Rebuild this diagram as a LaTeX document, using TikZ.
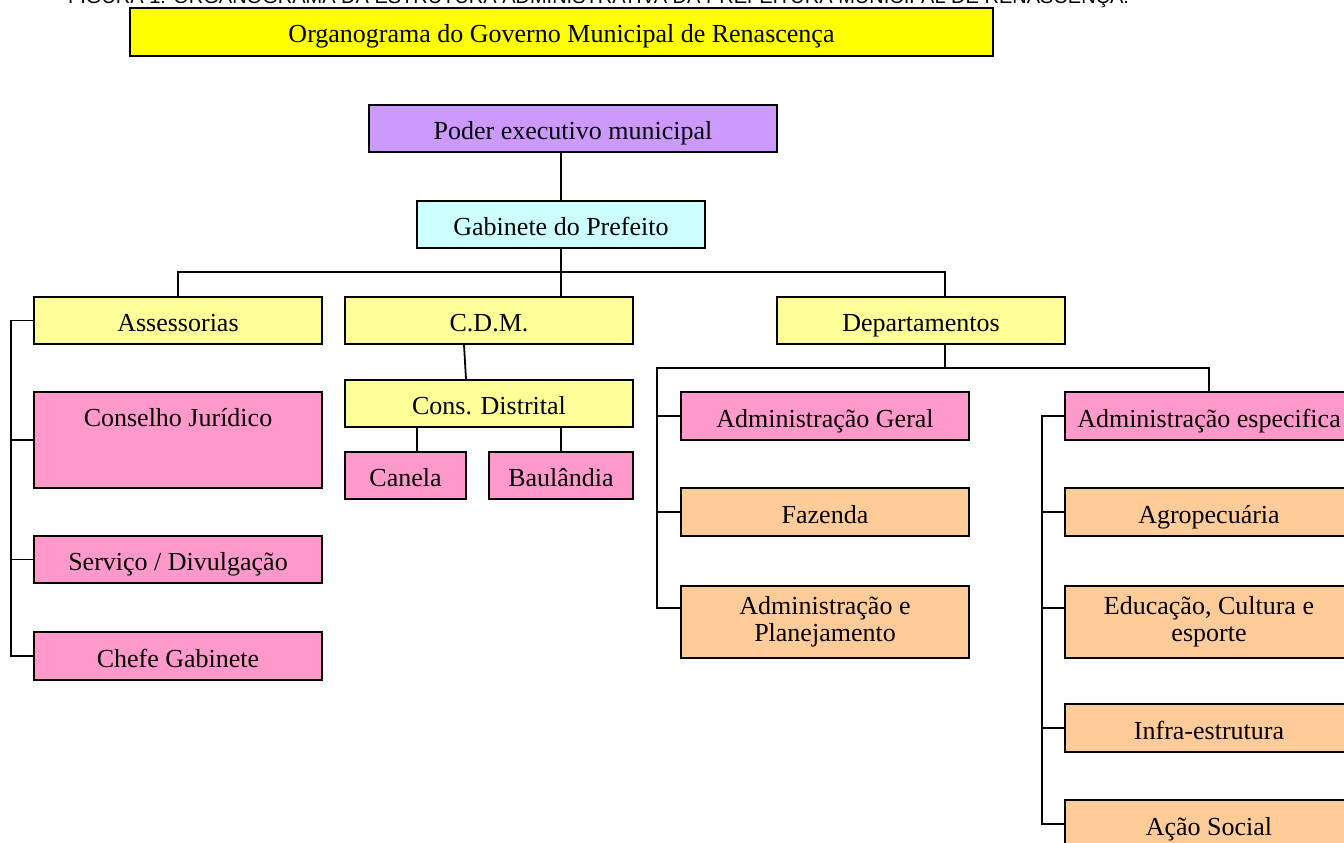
\documentclass[tikz,border=0pt]{standalone}
\usepackage{fontspec}
\setmainfont{Liberation Serif}
\newfontfamily\capfont{Liberation Sans}
\definecolor{titleyellow}{HTML}{FFFF00}
\definecolor{execpurple}{HTML}{CC99FF}
\definecolor{gabcyan}{HTML}{CCFFFF}
\definecolor{unityellow}{HTML}{FFFF99}
\definecolor{subpink}{HTML}{FF99CC}
\definecolor{deptorange}{HTML}{FFCC99}
\begin{document}
\begin{tikzpicture}[x=1pt,y=-1pt,
  orgframe/.style={draw=black, line width=1.8pt, rectangle, inner sep=0pt,
    minimum width=288pt, minimum height=47pt, align=center,
    font=\fontsize{26}{27}\selectfont},
  orgbox/.style={orgframe, text height=22pt, text depth=0pt},
  orgtwo/.style={orgframe, minimum height=72pt},
  link/.style={draw=black, line width=1.8pt}]
\useasboundingbox (0,0) rectangle (1344,843);
\clip (0,0) rectangle (1344,843);

% figure caption, partly above the page edge
\node[anchor=base west, inner sep=0pt, font=\capfont\fontsize{20}{24}\selectfont] (cap) at (68,4)
  {FIGURA 1: ORGANOGRAMA DA ESTRUTURA ADMINISTRATIVA DA PREFEITURA MUNICIPAL DE RENASCENÇA.};

% title and top levels
\node[orgbox, fill=titleyellow, minimum width=863pt, minimum height=48pt] (title) at (561.5,32) {Organograma do Governo Municipal de Renascença};
\node[orgbox, fill=execpurple, minimum width=408pt] (poder) at (573,128.5) {Poder executivo municipal};
\node[orgbox, fill=gabcyan] (gab) at (561,224.5) {Gabinete do Prefeito};

% second level
\node[orgbox, fill=unityellow] (ass) at (178,320.5) {Assessorias};
\node[orgbox, fill=unityellow] (cdm) at (489,320.5) {C.D.M.};
\node[orgbox, fill=unityellow] (dep) at (921,320.5) {Departamentos};

% C.D.M. branch
\node[orgbox, fill=unityellow] (cons) at (489,403.5) {Cons. Distrital};
\node[orgbox, fill=subpink, minimum width=121pt] (canela) at (405.5,475.5) {Canela};
\node[orgbox, fill=subpink, minimum width=144pt] (baul) at (561,475.5) {Baulândia};

% Assessorias branch
\node[orgbox, fill=subpink, minimum height=96pt] (cj) at (178,440) {};
\node[font=\fontsize{26}{27}\selectfont, inner sep=0pt, anchor=base] (cjtext) at (178,426) {Conselho Jurídico};
\node[orgbox, fill=subpink] (serv) at (178,559.5) {Serviço / Divulgação};
\node[orgbox, fill=subpink, minimum height=48pt] (chefe) at (178,656) {Chefe Gabinete};

% Departamentos branch, general administration
\node[orgbox, fill=subpink, minimum height=48pt] (ag) at (825,416) {Administração Geral};
\node[orgbox, fill=deptorange, minimum height=48pt] (faz) at (825,512) {Fazenda};
\node[orgtwo, fill=deptorange] (adp) at (825,622) {Administração e\\Planejamento};

% Departamentos branch, specific administration
\node[orgbox, fill=subpink, minimum height=48pt] (ae) at (1209,416) {Administração especifica};
\node[orgbox, fill=deptorange, minimum height=48pt] (agro) at (1209,512) {Agropecuária};
\node[orgtwo, fill=deptorange] (edu) at (1209,622) {Educação, Cultura e\\esporte};
\node[orgbox, fill=deptorange, minimum height=48pt] (infra) at (1209,728) {Infra-estrutura};
\node[orgbox, fill=deptorange, minimum height=48pt] (acao) at (1209,824) {Ação Social};

% connectors
\coordinate (topbus) at (0,272);
\coordinate (depbus) at (0,368);
\coordinate (depdrop) at (945,0);
\coordinate (assbus) at (11,0);
\coordinate (agbus) at (657,0);
\coordinate (aebus) at (1042,0);

\draw[link] (gab.north) -- (gab.north |- poder.south);
\draw[link] (gab.south) -- (gab.south |- cdm.north);
\draw[link] (ass.north) -- (ass.north |- topbus) -| (depdrop |- dep.north);

\draw[link] ([xshift=-25pt]cdm.south) -- ([xshift=-23pt]cons.north);
\draw[link] ([xshift=-72pt]cons.south) -- ([xshift=-72pt]cons.south |- canela.north);
\draw[link] ([xshift=72pt]cons.south) -- ([xshift=72pt]cons.south |- baul.north);

\draw[link] (ass.west) -| (assbus |- chefe.west) -- (chefe.west);
\draw[link] (cj.west) -- (cj.west -| assbus);
\draw[link] (serv.west) -- (serv.west -| assbus);

\draw[link] (depdrop |- dep.south) -- (depdrop |- depbus);
\draw[link] (adp.west |- 0,608) -| (agbus |- depbus) -| (ae.north);
\draw[link] (ag.west) -- (ag.west -| agbus);
\draw[link] (faz.west) -- (faz.west -| agbus);

\draw[link] (ae.west) -| (aebus |- acao.west) -- (acao.west);
\draw[link] (agro.west) -- (agro.west -| aebus);
\draw[link] (edu.west |- 0,608) -- (aebus |- 0,608);
\draw[link] (infra.west) -- (infra.west -| aebus);
\end{tikzpicture}
\end{document}
